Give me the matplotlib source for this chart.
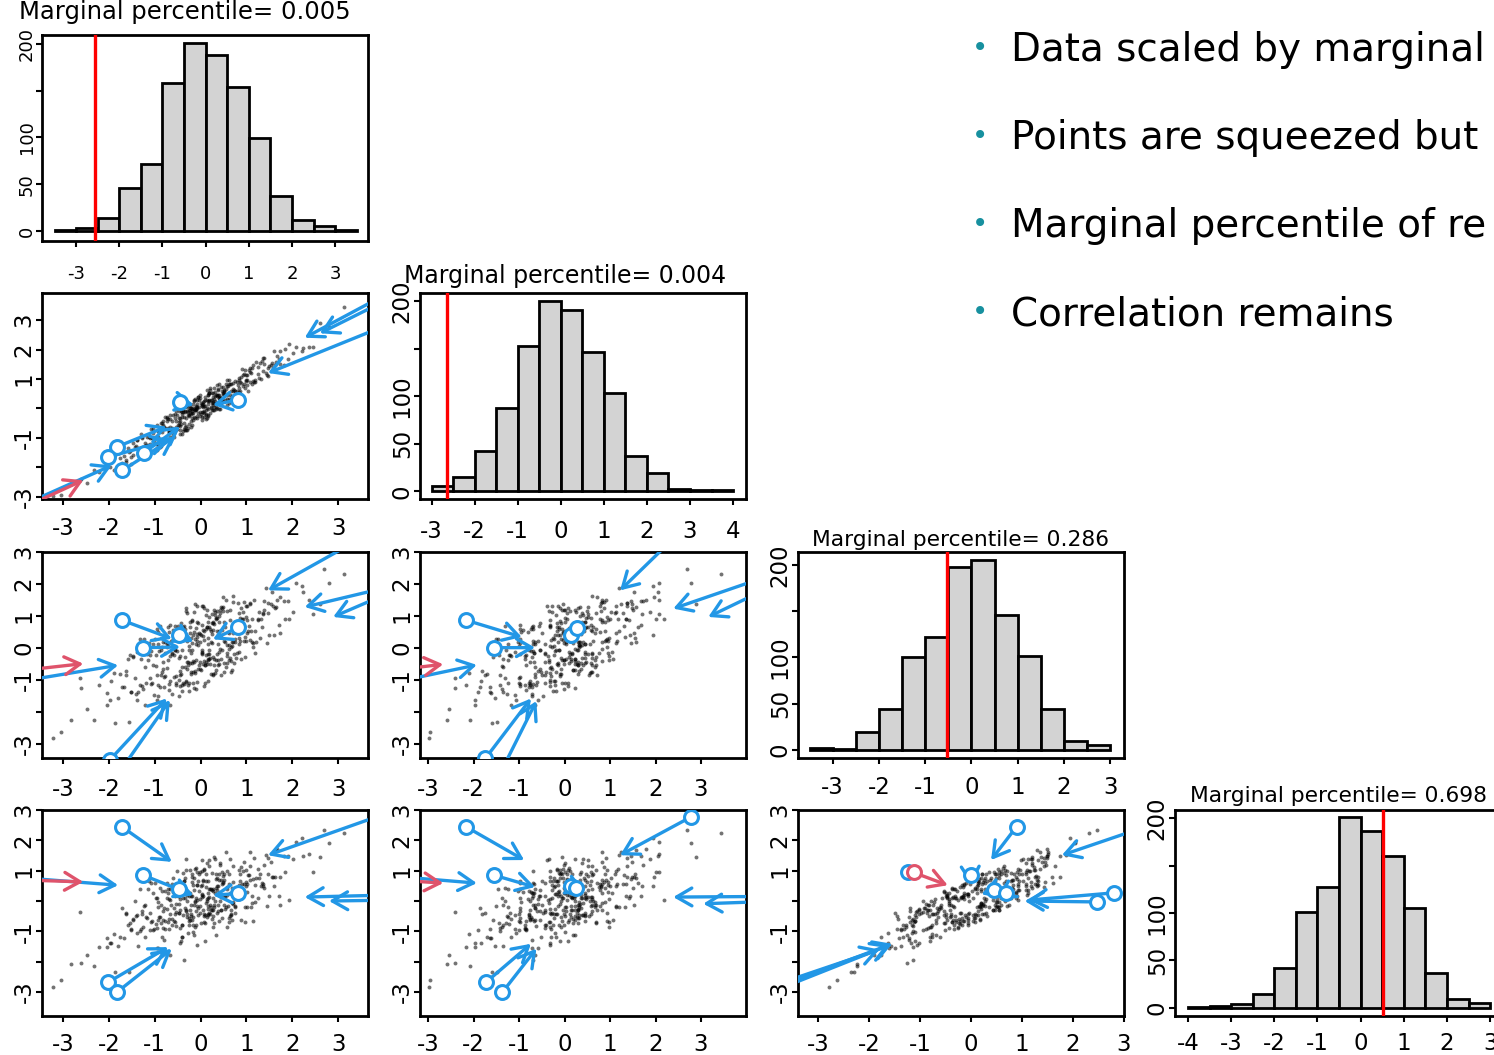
import numpy as np
import matplotlib
matplotlib.use("Agg")
import matplotlib.pyplot as plt
from matplotlib.patches import FancyArrowPatch

plt.rcParams['font.family'] = ['DejaVu Sans']
plt.rcParams['axes.unicode_minus'] = False

# -----------------------------
# DATA
# -----------------------------
# the four variables of the pairs plot, one value per observation
v1 = [
    -0.12, 0.45, -1.03, 0.88, 0.21, -0.57, 1.34, -0.31, 0.05, -1.62,
    0.73, -0.08, 0.39, -0.84, 1.91, -0.26, 0.14, -1.21, 0.62, -0.45,
    1.12, -0.69, 0.02, 0.51, -1.47, 0.29, -0.18, 2.23, -0.95, 0.81,
    -0.37, 0.97, -2.05, 0.17, -0.63, 1.53, -0.02, 0.36, -1.14, 0.67,
    0.09, -0.51, 1.71, -0.22, 0.58, -0.89, 0.26, -1.76, 1.05, -0.14,
    -2.48, 0.41, -0.33, 1.26, -0.71, 0.11, 0.84, -1.33, 0.47, -0.04,
    0.33, -0.98, 2.61, -0.41, 0.19, -1.08, 0.71, -0.19, 1.44, -0.66,
    -0.27, 0.56, -1.58, 0.93, -0.09, 0.25, -0.79, 1.17, -2.21, 0.38,
    0.64, -0.35, 0.07, -1.27, 1.62, -0.54, 0.44, -0.13, 0.99, -0.92,
    -1.89, 0.18, 1.38, -0.48, 0.77, -0.16, -2.83, 0.31, -0.74, 1.08,
    0.52, -1.38, 0.23, -0.06, 2.02, -0.61, 0.86, -0.29, -1.02, 0.13,
    1.21, -0.43, -0.11, 0.69, -1.68, 0.37, -0.86, 0.04, 1.57, -0.24,
    -0.59, 0.92, -1.19, 0.27, 3.12, -0.38, 0.58, -0.96, 0.16, -1.52,
    0.48, -0.21, 1.29, -0.77, 0.01, -1.96, 0.66, -0.47, 0.35, 1.83,
    -0.15, 0.74, -0.67, -2.61, 0.22, 1.02, -0.39, 0.57, -1.11, 0.08,
    1.47, -0.82, 0.30, -0.07, -1.41, 0.61, -0.28, 2.37, -0.55, 0.15,
    -0.93, 0.43, -0.19, 1.15, -1.23, 0.79, -0.01, -0.68, 0.26, -3.21,
    0.12, 1.66, -0.46, 0.54, -0.87, -0.23, 0.95, -1.81, 0.40, -0.10,
    -0.34, 0.06, 1.09, -1.06, 0.34, -0.52, 2.79, -0.17, 0.70, -1.29,
    0.27, -0.72, -0.05, 1.36, -0.40, 0.83, -1.55, 0.19, -0.30, 0.49,
    0.36, -0.74, 1.18, -0.05, -1.33, 0.62, -0.20, 0.95, -0.49, 0.11,
    -1.05, 0.28, 0.83, -0.36, 0.04, 1.72, -0.88, 0.47, -0.13, -1.56,
    0.58, -0.25, -0.64, 1.39, 0.19, -0.98, 0.07, 2.08, -0.41, 0.73,
    -0.17, 1.03, -1.86, 0.32, -0.57, 0.14, 1.25, -0.31, 0.66, -0.82,
    0.91, -0.44, 0.25, -1.17, 0.50, -0.08, 1.59, -0.69, 0.02, 2.45,
    -0.62, 0.17, -0.29, 0.80, -1.44, 0.43, -0.11, 1.12, -2.32, 0.30,
    0.06, -0.92, 1.46, -0.23, 0.68, -0.53, 0.21, -1.71, 0.99, -0.35,
    1.31, -0.15, 0.40, -0.78, -0.02, 0.87, -1.25, 0.55, -0.46, 0.16,
    -0.38, 0.64, -1.09, 0.24, 1.81, -0.67, 0.09, -0.21, 1.07, -2.04,
    0.46, -0.56, 0.13, 1.64, -0.94, 0.33, -0.04, -1.39, 0.76, -0.26,
    -0.71, 1.19, 0.01, -0.32, 0.57, -1.62, 0.26, 0.89, -0.09, 0.42,
    0.20, -1.13, 0.71, -0.43, 1.42, 0.05, -0.77, 0.34, -2.63, 0.97,
    -0.24, 0.52, -0.58, 1.02, -0.16, 2.21, -1.00, 0.15, 0.61, -0.47,
    0.83, -0.30, 0.38, -1.52, 0.10, -0.63, 1.27, -0.12, 0.45, -0.90,
    -1.28, 0.22, 1.55, -0.07, 0.69, -0.40, 0.02, -0.85, 1.93, -0.19,
    0.53, -0.66, -0.26, 0.98, -1.98, 0.29, 0.74, -0.54, 0.12, 1.36,
    -0.45, 0.08, 1.08, -0.96, 0.35, -0.14, -1.47, 0.60, -0.34, 2.68,
    0.15, -0.81, 0.49, 0.03, -0.60, 1.50, -0.28, 0.86, -1.21, 0.24,
    -0.10, 0.71, -1.36, 0.44, -0.01, -0.73, 1.15, -0.18, 0.39, -3.05,
    1.74, -0.37, 0.18, -1.10, 0.63, -0.48, 0.31, 1.01, -0.83, 0.08,
]
v2 = [
    -0.07, 0.14, -0.85, 0.86, 0.61, -0.69, 1.61, -0.75, 0.14, -1.82,
    0.37, 0.06, 0.34, -0.51, 1.69, -0.25, 0.62, -1.36, 0.83, -0.74,
    1.36, -0.77, -0.39, 0.63, -1.17, 0.03, -0.15, 2.06, -0.58, 0.80,
    -0.50, 1.32, -1.98, -0.21, -0.44, 1.49, -0.27, 0.80, -1.24, 0.83,
    0.40, -0.70, 1.69, 0.00, 0.11, -0.78, -0.07, -1.70, 1.31, -0.28,
    -2.55, 0.83, -0.61, 1.41, -0.71, -0.24, 1.04, -1.42, 0.29, 0.30,
    0.46, -1.22, 2.90, -0.86, 0.27, -0.70, 0.60, -0.02, 1.14, -0.64,
    -0.67, 0.66, -1.35, 0.77, 0.27, 0.19, -0.65, 0.90, -2.17, 0.66,
    0.83, -0.72, 0.08, -1.00, 1.49, -0.09, 0.23, -0.04, 0.96, -1.24,
    -2.11, 0.24, 1.72, -0.58, 0.38, 0.00, -2.58, 0.26, -0.33, 0.90,
    0.60, -1.08, 0.00, 0.37, 1.88, -0.91, 0.88, -0.08, -1.10, -0.33,
    1.57, -0.54, 0.04, 0.35, -1.63, 0.61, -1.28, 0.16, 1.38, -0.17,
    -0.85, 1.12, -1.25, 0.38, 3.44, -0.78, 0.75, -0.97, 0.45, -1.64,
    0.50, -0.64, 1.55, -0.68, -0.20, -1.83, 0.59, -0.08, 0.01, 2.01,
    0.29, 0.59, -0.99, -2.41, 0.29, 0.78, -0.04, 0.45, -1.01, -0.30,
    1.38, -0.55, 0.70, -0.27, -1.27, 0.17, -0.22, 2.08, -0.32, 0.16,
    -0.76, 0.39, -0.55, 1.47, -1.50, 0.89, 0.46, -0.84, 0.20, -2.99,
    -0.19, 1.78, -0.42, 0.29, -0.49, -0.04, 0.82, -1.53, -0.02, -0.02,
    -0.09, -0.14, 1.20, -1.01, -0.01, -0.21, 2.77, -0.40, 0.86, -0.86,
    0.10, -0.35, -0.17, 1.28, -0.18, 0.55, -1.45, 0.52, -0.75, 0.52,
    0.44, -0.44, 0.95, 0.38, -1.47, 0.32, -0.18, 1.16, -0.57, -0.35,
    -0.69, 0.17, 0.98, -0.70, 0.09, 1.96, -1.30, 0.59, -0.32, -1.49,
    0.32, -0.05, -0.70, 1.50, 0.51, -1.38, 0.24, 2.07, -0.12, 0.61,
    -0.15, 0.60, -1.60, 0.41, -0.78, 0.27, 1.18, 0.08, 0.32, -0.64,
    1.35, -0.59, -0.07, -0.97, 0.57, -0.32, 1.94, -0.81, 0.12, 2.07,
    -0.71, 0.44, 0.11, 0.60, -1.30, -0.01, -0.05, 0.83, -2.09, 0.31,
    0.23, -0.96, 1.10, 0.09, 0.41, -0.43, 0.68, -1.87, 0.93, -0.13,
    1.00, -0.03, 0.44, -1.03, 0.36, 1.06, -1.38, 0.83, -0.88, 0.24,
    -0.13, 0.44, -0.98, 0.29, 1.46, -0.36, 0.07, -0.44, 1.23, -1.61,
    0.29, -0.19, 0.01, 1.56, -0.72, 0.05, 0.06, -1.06, 0.31, -0.23,
    -0.66, 0.88, 0.19, -0.34, 0.97, -1.74, 0.53, 0.45, 0.00, 0.22,
    -0.16, -0.99, 0.66, -0.10, 1.20, 0.06, -0.29, 0.19, -2.42, 0.68,
    0.00, 0.44, -0.99, 1.14, 0.14, 1.95, -0.97, -0.02, 0.98, -0.48,
    0.70, 0.05, 0.45, -1.90, 0.29, -0.67, 1.02, 0.32, 0.35, -0.74,
    -0.97, 0.03, 1.53, 0.15, 0.22, -0.29, -0.31, -0.79, 2.19, -0.33,
    0.46, -0.24, -0.54, 1.13, -1.98, -0.06, 0.94, -0.63, -0.06, 1.70,
    -0.32, -0.16, 1.37, -1.41, 0.43, 0.24, -1.58, 0.77, -0.64, 2.70,
    -0.25, -0.71, 0.72, -0.13, -0.24, 1.44, -0.14, 0.59, -1.17, 0.52,
    0.09, 0.34, -1.35, 0.71, -0.14, -0.28, 0.94, -0.09, 0.36, -2.95,
    1.52, -0.31, 0.52, -1.20, 0.24, -0.32, 0.56, 0.96, -0.42, -0.10,
]
v3 = [
    0.28, -0.35, -0.52, 1.24, -0.31, 0.68, 0.65, -1.02, 0.55, -0.72,
    -0.47, 0.43, 1.00, -0.76, 1.48, -1.34, 0.67, -0.59, -0.03, 0.59,
    0.89, -1.14, 1.32, 0.22, -0.24, -0.33, -0.48, 1.75, -1.62, 1.42,
    0.46, 0.34, -1.78, -1.02, -0.19, 1.39, -0.67, 1.17, -0.38, -0.41,
    -0.53, 0.59, 0.72, 0.31, 1.16, -1.23, -0.81, -0.80, 0.69, 1.11,
    -1.91, 0.82, -1.06, 0.88, 0.65, -0.22, -0.14, -1.15, 1.26, -0.53,
    0.94, -0.21, 1.37, -1.17, -0.05, -0.10, 1.64, 0.16, 0.15, -1.77,
    -0.43, -0.61, -0.34, 0.92, 0.82, 0.17, -0.91, 1.49, -1.15, -0.39,
    0.87, -0.29, -1.20, 0.07, 1.25, -0.89, 0.42, 1.36, 0.23, 0.12,
    -0.77, -0.34, 1.46, 0.23, -0.32, -1.11, -2.25, 1.11, -0.63, 0.25,
    -0.75, -0.12, 0.52, -0.67, 1.12, 0.57, 0.22, -0.65, -1.46, 0.65,
    0.20, 0.79, 0.13, 0.07, -1.23, -0.54, -0.07, -0.16, 1.31, 0.66,
    -0.22, 1.13, -1.09, 0.82, 2.32, -1.11, -0.17, 0.59, 0.13, -1.37,
    1.17, -0.82, 0.30, -0.17, 0.40, -1.03, -0.75, -0.32, 0.93, 0.90,
    -0.43, 0.71, 0.72, -1.26, -0.80, 1.30, 0.25, -0.47, -0.95, 0.26,
    1.42, -0.66, -0.53, 1.32, -1.45, 0.48, -1.16, 1.51, 0.07, -0.20,
    -1.17, 1.08, -0.06, 0.15, 0.27, 0.81, -0.43, -1.31, 0.79, -2.80,
    1.02, 1.49, -0.85, 0.19, -0.84, 0.47, 1.44, -1.57, -0.50, -1.27,
    0.39, 1.31, 0.54, -1.11, -0.38, -0.08, 2.03, -0.76, 1.44, -0.33,
    -0.27, -0.37, 0.78, 1.08, -1.34, 0.13, -0.23, 0.64, -0.43, 1.27,
    -0.20, 0.13, -0.15, 0.09, 0.28, 0.08, -0.76, 0.22, 0.69, -0.44,
    0.11, 0.55, 0.30, -1.14, -0.14, 1.58, 0.68, 0.55, -0.79, -2.31,
    0.08, -1.10, 0.23, 1.19, 0.98, -0.57, -0.40, 2.04, -0.07, -0.18,
    0.39, 0.54, -2.36, 1.02, -0.06, -0.49, 0.91, 1.25, 0.04, 0.18,
    0.91, -0.71, 0.78, -0.18, -0.48, -1.06, 0.40, 0.51, -0.18, 1.07,
    -1.43, 0.81, 0.21, -0.15, -0.95, 1.20, -0.37, 0.19, -2.24, 0.75,
    -0.49, 0.50, 1.08, -0.48, 0.19, -1.08, 0.58, -1.21, 0.96, 0.59,
    0.92, 0.49, -0.14, 0.19, 0.44, -0.36, -1.27, 1.50, -0.25, -0.36,
    0.65, -0.31, -1.12, 0.43, 1.48, -0.25, -1.10, -0.17, 1.36, -1.42,
    -0.06, -0.07, 1.20, 1.29, -1.49, 0.89, 0.46, -1.64, 0.18, 0.05,
    0.11, 0.54, -0.70, 1.17, -0.26, -0.86, -0.83, 0.62, 0.35, -0.04,
    -0.49, 0.14, 0.48, -0.80, 1.86, 0.37, -0.88, -0.70, -0.95, -0.29,
    0.81, 0.80, -0.92, 0.48, -0.42, 1.94, 0.27, -0.39, -0.37, -1.49,
    1.09, 1.09, 0.12, -1.38, -0.52, -0.15, 1.12, -0.73, 1.29, -0.10,
    -1.20, 0.19, 1.74, 0.22, -0.69, -0.61, 0.71, 0.02, 0.91, 0.87,
    0.67, -1.02, -0.06, 1.30, -1.63, 1.19, 0.29, -1.15, 0.59, 1.07,
    -1.18, 0.53, 1.42, -0.84, 0.54, -1.26, -0.29, 0.50, -0.60, 2.47,
    0.31, -1.22, 1.60, -0.07, 0.28, 0.40, -0.54, 0.93, -1.78, 1.07,
    0.62, 0.19, -1.37, -0.86, 0.18, 0.03, 0.03, 0.84, 0.53, -2.64,
    0.46, 0.68, -0.20, -0.22, 1.19, -0.99, -0.78, 0.87, -0.44, 1.24,
]
v4 = [
    0.00, 0.14, -0.94, 1.11, 0.39, 0.16, 0.58, -0.29, -0.29, -0.42,
    0.09, 0.04, 0.90, -1.20, 1.48, -0.79, 0.01, -0.13, 0.56, 0.30,
    0.15, -0.59, 1.35, 0.88, -0.60, -0.20, 0.18, 1.50, -1.55, 0.46,
    0.65, -0.19, -1.52, -0.25, -0.80, 1.28, -0.39, 0.51, 0.40, -0.28,
    -0.47, 1.00, 0.15, -0.49, 1.00, -0.52, -0.86, -1.18, 0.86, 0.37,
    -1.78, 0.70, -0.33, 0.10, 0.28, 0.46, 0.27, -0.99, 0.55, 0.32,
    0.90, -0.77, 1.45, -0.79, -0.38, 0.58, 1.15, 0.63, -0.16, -1.77,
    0.26, -0.20, -0.78, 0.36, 0.53, -0.58, -0.23, 1.42, -1.50, -0.14,
    0.27, 0.11, -0.69, -0.43, 0.79, -0.10, -0.30, 1.06, 0.63, -0.20,
    -1.09, 0.38, 1.20, -0.10, 0.11, -1.01, -2.09, 0.28, -0.25, 0.68,
    -0.13, -0.45, -0.21, -0.22, 1.39, 0.31, 0.88, -0.54, -0.93, 0.06,
    0.76, 0.36, -0.34, 0.42, -1.22, -0.33, -0.72, 0.13, 0.79, 1.03,
    -0.65, 0.99, -0.53, 0.40, 2.24, -0.47, 0.47, 0.09, -0.47, -0.93,
    0.62, -0.14, 0.88, -0.67, 0.50, -1.39, -0.43, 0.16, 0.35, 0.95,
    -0.12, -0.16, 0.39, -2.05, -0.28, 0.57, 0.11, 0.21, -0.96, -0.42,
    1.42, -0.32, -0.71, 0.53, -0.49, 0.88, -1.07, 1.54, -0.69, 0.11,
    -0.64, 1.26, -0.61, 0.73, -0.18, 0.44, 0.07, -0.91, 0.09, -2.85,
    0.65, 1.70, -0.30, -0.27, -0.14, -0.29, 1.29, -1.48, 0.28, -0.80,
    0.76, 0.65, -0.19, -0.67, 0.42, 0.23, 1.90, -0.79, 0.63, -0.93,
    0.33, -0.68, 0.67, 0.56, -1.20, 0.54, -0.74, 1.17, -0.01, 0.84,
    -0.41, 0.58, 0.54, -0.47, 0.41, -0.56, -0.44, 0.57, 0.17, -0.06,
    0.28, -0.28, 0.08, -1.96, 0.21, 0.78, 0.43, 0.97, -0.84, -2.35,
    0.41, -0.65, -0.14, 0.43, 1.34, 0.09, -0.50, 1.94, -0.79, 0.12,
    0.53, 0.86, -2.33, 1.39, -0.43, -0.54, 1.07, 1.01, -0.47, -0.61,
    0.56, 0.05, 0.93, -0.55, 0.13, -1.44, 0.51, 0.08, 0.52, 0.95,
    -0.60, 0.28, -0.44, 0.05, 0.00, 1.19, 0.10, -0.08, -2.13, -0.12,
    0.16, -0.02, 0.89, -0.61, -0.05, -0.37, -0.13, -0.22, 1.03, 0.33,
    0.48, 0.77, -0.66, 0.32, 0.95, -0.62, -0.86, 1.61, -0.89, -0.15,
    0.93, -0.51, -0.69, -0.31, 1.48, 0.03, -1.32, 0.18, 1.60, -1.21,
    -0.57, 0.22, 1.26, 1.68, -1.54, 0.72, 0.89, -1.04, -0.19, -0.57,
    0.38, -0.04, -0.71, 1.40, -0.86, -0.41, -0.51, 0.10, 0.95, 0.00,
    -0.44, 0.67, -0.03, -1.32, 1.53, 0.68, -0.91, -1.11, -0.37, -0.68,
    0.26, 0.68, -0.22, -0.20, -0.53, 2.09, 0.58, -0.42, -0.68, -0.40,
    1.01, 0.21, 0.51, -0.95, -0.73, 0.55, 0.76, -0.04, 0.70, -0.52,
    -0.32, 0.40, 0.79, -0.16, -0.61, -1.17, 0.98, 0.32, 0.04, 0.80,
    0.12, -0.44, 0.16, 0.50, -1.37, 1.46, -0.40, -0.82, 0.90, 0.51,
    -1.40, 1.04, 1.17, -0.90, 0.76, -1.13, -0.62, -0.17, -0.23, 2.34,
    0.66, -1.28, 0.60, 0.23, 0.76, 0.18, 0.30, 0.65, -1.17, 0.37,
    1.08, -0.09, -1.47, -0.28, -0.16, 0.10, -0.65, 0.88, 0.21, -2.60,
    -0.13, 0.65, 0.14, -0.39, 1.39, -0.38, 0.01, 0.30, -0.90, 1.03,
]
variables = [v1, v2, v3, v4]

# histogram counts (bins of width 0.5) and first break of each histogram
counts1 = [1, 3, 14, 46, 72, 158, 201, 188, 154, 99, 38, 12, 5, 1]
counts2 = [6, 15, 42, 88, 153, 200, 191, 146, 103, 37, 19, 2, 1, 1]
counts3 = [2, 1, 19, 44, 101, 122, 198, 206, 146, 102, 44, 9, 5]
counts4 = [1, 2, 4, 14, 42, 101, 127, 201, 187, 160, 105, 37, 9, 5]
hist_counts = [counts1, counts2, counts3, counts4]
first_break = [-3.5, -3.0, -3.5, -4.0]

# value of the highlighted record on each margin
record_value = [-2.56, -2.64, -0.52, 0.51]
percentiles = ["0.005", "0.004", "0.286", "0.698"]

hist_xticks = [list(range(-3, 4)), list(range(-3, 5)), list(range(-3, 4)), list(range(-4, 4))]

# moves of the points: (x from, y from, x to, y to) per panel (row, col)
arrows_21 = [(3.95, 3.80, 2.27, 2.40), (3.95, 3.60, 2.60, 2.55), (4.20, 2.92, 1.47, 1.20),
             (-0.45, 0.21, -0.15, 0.12), (0.82, 0.29, 0.27, 0.12),
             (-1.83, -1.31, -0.74, -0.62), (-2.02, -1.65, -0.67, -1.08),
             (-1.71, -2.11, -0.56, -0.97), (-1.24, -1.51, -0.45, -0.62),
             (-3.90, -3.30, -1.94, -1.94)]
red_21 = [(-3.90, -3.40, -2.56, -2.44)]
circles_21 = [(-0.45, 0.21), (0.82, 0.29), (-1.83, -1.31), (-2.02, -1.65), (-1.71, -2.11), (-1.24, -1.51)]

arrows_31 = [(3.50, 3.43, 1.47, 1.80), (4.20, 1.94, 2.27, 1.28), (4.20, 1.78, 2.89, 0.97),
             (-1.72, 0.87, -0.63, 0.29), (-1.25, 0.01, -0.45, 0.03), (-0.47, 0.42, -0.16, 0.19),
             (0.82, 0.64, 0.27, 0.27), (-4.00, -1.06, -1.80, -0.54),
             (-1.98, -3.50, -0.74, -1.58), (-1.78, -3.90, -0.67, -1.63)]
red_31 = [(-4.00, -0.72, -2.56, -0.49)]
circles_31 = [(-1.72, 0.87), (-1.25, 0.01), (-0.47, 0.42), (0.82, 0.64), (-1.98, -3.50)]

arrows_32 = [(2.40, 3.43, 1.22, 1.80), (4.40, 2.21, 2.39, 1.23), (4.40, 1.82, 3.16, 0.97),
             (-2.17, 0.87, -0.94, 0.34), (-1.55, 0.01, -0.65, 0.01),
             (-3.80, -1.09, -1.93, -0.53), (-1.74, -3.45, -0.74, -1.58), (-1.41, -3.90, -0.62, -1.66)]
red_32 = [(-3.80, -0.70, -2.67, -0.51)]
circles_32 = [(-2.17, 0.87), (-1.55, 0.01), (0.15, 0.40), (0.28, 0.62), (-1.74, -3.45)]

arrows_41 = [(-1.72, 2.45, -0.63, 1.29), (-1.25, 0.85, -0.16, 0.19), (0.82, 0.25, 0.27, 0.19),
             (4.20, 2.97, 1.47, 1.51), (4.20, 0.20, 2.27, 0.13), (4.20, 0.03, 2.80, 0.00),
             (-4.00, 0.78, -1.80, 0.52), (-2.02, -2.68, -0.71, -1.52), (-1.83, -3.01, -0.63, -1.58)]
red_41 = [(-4.00, 0.70, -2.56, 0.63)]
circles_41 = [(-1.72, 2.45), (-1.25, 0.85), (-0.47, 0.38), (0.82, 0.25), (-2.02, -2.68), (-1.83, -3.01)]

arrows_42 = [(-2.17, 2.45, -0.89, 1.35), (-1.55, 0.85, -0.65, 0.46), (2.79, 2.78, 1.22, 1.51),
             (4.40, 0.15, 2.39, 0.13), (4.40, -0.02, 3.05, -0.09), (0.15, 0.49, 0.45, 0.30),
             (-3.80, 0.82, -1.93, 0.59), (-1.73, -2.68, -0.74, -1.41), (-1.37, -3.01, -0.62, -1.57)]
red_42 = [(-3.80, 0.70, -2.67, 0.59)]
circles_42 = [(-2.17, 2.45), (-1.55, 0.85), (2.79, 2.78), (0.15, 0.49), (0.26, 0.43), (-1.73, -2.68), (-1.37, -3.01)]

arrows_43 = [(0.89, 2.45, 0.39, 1.35), (-0.01, 0.85, 0.00, 0.52), (0.44, 0.36, 0.20, 0.22),
             (0.68, 0.27, 0.50, 0.10), (2.81, 0.27, 1.12, 0.03), (2.47, -0.03, 1.05, 0.00),
             (3.60, 2.55, 1.78, 1.51), (-4.00, -2.95, -1.55, -1.41), (-4.00, -2.85, -1.80, -1.60),
             (-4.00, -3.05, -1.60, -1.45)]
red_43 = [(-1.13, 0.94, -0.46, 0.52)]
circles_43 = [(-1.25, 0.96), (0.89, 2.45), (-0.01, 0.85), (0.44, 0.36), (0.68, 0.27), (2.81, 0.27), (2.47, -0.03)]
red_circles_43 = [(-1.13, 0.94)]

marks = {
    (1, 0): (arrows_21, red_21, circles_21, []),
    (2, 0): (arrows_31, red_31, circles_31, []),
    (2, 1): (arrows_32, red_32, circles_32, []),
    (3, 0): (arrows_41, red_41, circles_41, []),
    (3, 1): (arrows_42, red_42, circles_42, []),
    (3, 2): (arrows_43, red_43, circles_43, red_circles_43),
}

bullets = ["Data scaled by marginal", "Points are squeezed but",
           "Marginal percentile of re", "Correlation remains"]

# -----------------------------
# LAYOUT / STYLE
# -----------------------------
W, H = 1494, 1055
BLUE = '#2297E6'
RED = '#DF536B'
TEAL = '#17909F'

col_left = [42, 420, 798, 1175]
row_top = [35, 293, 552, 810]
AX_W, AX_H = 326, 206

# axis limits per variable (x use, y use)
xlim_of = [(-3.46, 3.65), (-3.18, 3.99), (-3.40, 3.00)]
ylim_of = [None, (-3.08, 3.92), (-3.44, 3.00), (-3.79, 3.00)]
ylabels_of = [None,
              ['-3', '', '-1', '', '1', '2', '3'],
              ['-3', '', '-1', '0', '1', '2', '3'],
              ['-3', '', '-1', '', '1', '2', '3']]
row_xpad = [13, 9, 10.5, 8]

hist_xlim = [(-3.79, 3.76), (-3.27, 4.30), (-3.75, 3.30), (-4.30, 3.25)]
hist_ylim = [(-10.6, 209.5), (-8.1, 208.4), (-9.0, 214.4), (-8.8, 208.8)]
hist_xpad = [13, 11, 9, 7.5]
hist_lsize = [13, 16.5, 16.5, 16.5]
title_x = [0.439, 0.445, 0.5, 0.503]
title_gap = [16, 10, 5.5, 7.5]
title_size = [17.5, 17, 15.7, 15.7]

fig = plt.figure(figsize=(W / 100, H / 100), dpi=100)


def make_axes(r, c):
    return fig.add_axes([col_left[c] / W, 1 - (row_top[r] + AX_H) / H, AX_W / W, AX_H / H])


def frame(ax, size, xpad):
    for sp in ax.spines.values():
        sp.set_linewidth(2.0)
    ax.tick_params(direction='out', length=4, width=1.5, labelsize=size)
    ax.tick_params(axis='x', pad=xpad)
    ax.tick_params(axis='y', pad=0.5)


def arrow(ax, seg, color):
    x0, y0, x1, y1 = seg
    p = FancyArrowPatch((x0, y0), (x1, y1), arrowstyle='->,head_length=0.55,head_width=0.32',
                        mutation_scale=20, lw=2.4, color=color, shrinkA=0, shrinkB=0,
                        capstyle='round', joinstyle='round', zorder=3)
    ax.add_patch(p)


# histograms on the diagonal
for k in range(4):
    ax = make_axes(k, k)
    counts = hist_counts[k]
    lefts = first_break[k] + 0.5 * np.arange(len(counts))
    ax.bar(lefts, counts, width=0.5, align='edge', color='#D3D3D3',
           edgecolor='black', linewidth=2, zorder=2)
    ax.axvline(record_value[k], color='red', lw=2.4, zorder=3)
    ax.set_xlim(*hist_xlim[k])
    ax.set_ylim(*hist_ylim[k])
    ax.set_xticks(hist_xticks[k])
    ax.set_yticks([0, 50, 100, 150, 200], ['0', '50', '100', '', '200'],
                  rotation=90, va='center')
    frame(ax, hist_lsize[k], hist_xpad[k])
    ax.text(title_x[k], 1 + title_gap[k] / AX_H, "Marginal percentile= " + percentiles[k],
            transform=ax.transAxes, ha='center', va='baseline', fontsize=title_size[k])

# scatter panels below the diagonal
for r in range(1, 4):
    for c in range(r):
        ax = make_axes(r, c)
        ax.scatter(variables[c], variables[r], s=8, color='black', alpha=0.55,
                   linewidths=0, zorder=2)
        blue, red, circ, rcirc = marks[(r, c)]
        for seg in blue:
            arrow(ax, seg, BLUE)
        for seg in red:
            arrow(ax, seg, RED)
        if circ:
            ax.plot([p[0] for p in circ], [p[1] for p in circ], 'o', ms=10,
                    mfc='white', mec=BLUE, mew=2.2, zorder=4)
        if rcirc:
            ax.plot([p[0] for p in rcirc], [p[1] for p in rcirc], 'o', ms=10,
                    mfc='white', mec=RED, mew=2.2, zorder=5)
        ax.set_xlim(*xlim_of[c])
        ax.set_ylim(*ylim_of[r])
        ax.set_xticks(range(-3, 4))
        ax.set_yticks(range(-3, 4), ylabels_of[r], rotation=90, va='center')
        frame(ax, 16.5, row_xpad[r])

# bullet text on the right
baselines = [61, 149, 237, 325]
for txt, yb in zip(bullets, baselines):
    fig.text(980 / W, 1 - (yb - 5) / H, '\u2022', color=TEAL, fontsize=20,
             ha='center', va='baseline')
    fig.text(1011 / W, 1 - yb / H, txt, fontsize=28, va='baseline', color='black')

fig.savefig("out.png", dpi=100)
